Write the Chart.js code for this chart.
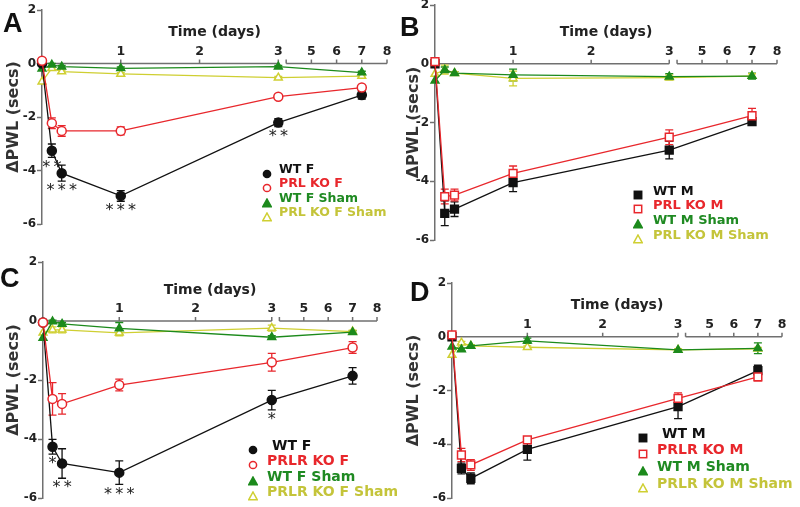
<!DOCTYPE html>
<html lang="en">
<head>
<meta charset="UTF-8">
<title>Change in paw withdrawal latency</title>
<script src="https://cdn.jsdelivr.net/npm/chart.js"></script>
<style>
    html, body { margin: 0; padding: 0; background: #fff; }
    #figure { position: relative; width: 800px; height: 507px; overflow: hidden; font-family: "DejaVu Sans", Verdana, sans-serif; }
    #figure canvas { position: absolute; }
    .tag { position: absolute; font: bold 27px "Liberation Sans", Arial, sans-serif; line-height: 1; color: #111; }
    .leg-text { position: absolute; font-weight: bold; line-height: 1; white-space: nowrap; transform: translateY(-50%); }
    .leg-mark { position: absolute; width: 10px; height: 10px; }
</style>
</head>
<body>
<div id="figure"></div>

<script>
    // time points (days) and axis ticks
    const times = [0, 0.125, 0.25, 1, 3, 7];
    const xTickDays = [1, 2, 3, 5, 6, 7, 8];
    const yTickValues = [-6, -4, -2, 0, 2];

    // Panel A
    const aLabels = ['WT F', 'PRL KO F', 'WT F Sham', 'PRL KO F Sham'];
    const aWt = [0.00, -3.26, -4.10, -4.95, -2.21, -1.18];
    const aWtErr = [0, 0.25, 0.30, 0.20, 0.15, 0.15];
    const aKo = [0.10, -2.23, -2.52, -2.52, -1.24, -0.90];
    const aKoErr = [0, 0.20, 0.20, 0.15, 0.06, 0.06];
    const aWtSham = [-0.20, -0.05, -0.12, -0.18, -0.12, -0.34];
    const aWtShamErr = [0, 0.05, 0.05, 0.05, 0.05, 0.05];
    const aKoSham = [-0.68, -0.18, -0.30, -0.39, -0.53, -0.47];
    const aKoShamErr = [0, 0.05, 0.05, 0.05, 0.05, 0.05];
    const aStars = ['', '**', '***', '***', '**', ''];

    // Panel B
    const bLabels = ['WT M', 'PRL KO M', 'WT M Sham', 'PRL KO M Sham'];
    const bWt = [0.00, -5.09, -4.95, -4.05, -2.94, -1.97];
    const bWtErr = [0, 0.42, 0.25, 0.30, 0.30, 0.06];
    const bKo = [0.07, -4.52, -4.47, -3.73, -2.50, -1.77];
    const bKoErr = [0, 0.25, 0.20, 0.25, 0.25, 0.25];
    const bWtSham = [-0.58, -0.21, -0.32, -0.38, -0.44, -0.42];
    const bWtShamErr = [0, 0.10, 0.05, 0.20, 0.10, 0.10];
    const bKoSham = [-0.35, -0.20, -0.32, -0.50, -0.47, -0.42];
    const bKoShamErr = [0, 0.15, 0.05, 0.25, 0.08, 0.08];
    const bStars = ['', '', '', '', '', ''];

    // Panel C
    const cLabels = ['WT F', 'PRLR KO F', 'WT F Sham', 'PRLR KO F Sham'];
    const cWt = [-0.05, -4.26, -4.83, -5.14, -2.68, -1.86];
    const cWtErr = [0, 0.25, 0.50, 0.40, 0.33, 0.28];
    const cKo = [-0.05, -2.64, -2.81, -2.17, -1.40, -0.90];
    const cKoErr = [0, 0.55, 0.35, 0.20, 0.30, 0.20];
    const cWtSham = [-0.58, -0.02, -0.10, -0.25, -0.55, -0.38];
    const cWtShamErr = [0, 0.05, 0.05, 0.20, 0.05, 0.05];
    const cKoSham = [-0.40, -0.30, -0.30, -0.40, -0.24, -0.36];
    const cKoShamErr = [0, 0.10, 0.10, 0.10, 0.10, 0.05];
    const cStars = ['', '*', '**', '***', '*', ''];

    // Panel D
    const dLabels = ['WT M', 'PRLR KO M', 'WT M Sham', 'PRLR KO M Sham'];
    const dWt = [0.00, -4.90, -5.27, -4.19, -2.60, -1.26];
    const dWtErr = [0, 0.20, 0.20, 0.40, 0.45, 0.20];
    const dKo = [0.07, -4.40, -4.77, -3.84, -2.29, -1.49];
    const dKoErr = [0, 0.25, 0.20, 0.10, 0.20, 0.15];
    const dWtSham = [-0.37, -0.47, -0.34, -0.15, -0.49, -0.43];
    const dWtShamErr = [0, 0.05, 0.05, 0.10, 0.05, 0.20];
    const dKoSham = [-0.68, -0.22, -0.34, -0.39, -0.49, -0.45];
    const dKoShamErr = [0, 0.05, 0.05, 0.05, 0.05, 0.05];
    const dStars = ['', '', '', '', '', ''];

    const family = '"DejaVu Sans", Verdana, sans-serif';
    const axisColor = '#707070';
    const lineColors = ['#111111', '#e8272c', '#1c8a1c', '#cfcf32'];
    const textColors = ['#111111', '#e8272c', '#1f8a22', '#c4c43a'];
    const hollow = [false, true, false, true];
    const drawOrder = [1, 0, 2, 3];   // KO series sits on top of WT at day 0

    // days 0-3 on a linear scale, then 4-8 squeezed after the break
    const dayPos = d => d <= 3 ? d : 3.1 + (d - 4) * 0.32;

    // page-pixel layout for each panel: canvas box, plot area, legend spot
    const panels = [
        { tag: 'A', tagAt: [3, 10], box: [0, -10, 400, 250], area: [42, 10, 387, 224], shape: 'circle',
          labels: aLabels, series: [aWt, aKo, aWtSham, aKoSham], errors: [aWtErr, aKoErr, aWtShamErr, aKoShamErr], stars: aStars,
          legend: { mx: 267, tx: 279, rows: [169, 183, 198, 212], size: 12.5 } },
        { tag: 'B', tagAt: [400, 14], box: [400, -10, 400, 260], area: [435, 5, 777, 240], shape: 'rect',
          labels: bLabels, series: [bWt, bKo, bWtSham, bKoSham], errors: [bWtErr, bKoErr, bWtShamErr, bKoShamErr], stars: bStars,
          legend: { mx: 638, tx: 653, rows: [190, 204, 219, 234], size: 13 } },
        { tag: 'C', tagAt: [0, 265], box: [0, 245, 400, 262], area: [43, 262, 377, 498], shape: 'circle',
          labels: cLabels, series: [cWt, cKo, cWtSham, cKoSham], errors: [cWtErr, cKoErr, cWtShamErr, cKoShamErr], stars: cStars,
          legend: { mx: 253, tx: 267, rows: [445, 460, 476, 491], size: 14 } },
        { tag: 'D', tagAt: [410, 279], box: [400, 245, 400, 262], area: [452, 283, 782, 498], shape: 'rect',
          labels: dLabels, series: [dWt, dKo, dWtSham, dKoSham], errors: [dWtErr, dKoErr, dWtShamErr, dKoShamErr], stars: dStars,
          legend: { mx: 643, tx: 657, rows: [433, 449, 466, 483], size: 14 } }
    ];

    // x axis sits on y = 0, with a break after day 3
    const brokenAxis = {
        id: 'brokenAxis',
        beforeDatasetsDraw(chart) {
            const { ctx, chartArea, scales: { x, y } } = chart;
            const y0 = y.getPixelForValue(0);
            ctx.save();
            ctx.strokeStyle = axisColor;
            ctx.lineWidth = 1.5;
            ctx.beginPath();
            ctx.moveTo(x.getPixelForValue(0), y0);
            ctx.lineTo(x.getPixelForValue(3), y0);
            ctx.moveTo(x.getPixelForValue(dayPos(4)), y0);
            ctx.lineTo(x.getPixelForValue(dayPos(8)), y0);
            [4, ...xTickDays].forEach(d => {
                const px = x.getPixelForValue(dayPos(d));
                ctx.moveTo(px, y0);
                ctx.lineTo(px, y0 - 4);
            });
            ctx.stroke();
            ctx.fillStyle = '#222';
            ctx.textAlign = 'center';
            ctx.textBaseline = 'middle';
            ctx.font = 'bold 12.5px ' + family;
            xTickDays.forEach(d => ctx.fillText(String(d), x.getPixelForValue(dayPos(d)), y0 - 12));
            ctx.font = 'bold 14px ' + family;
            ctx.fillText('Time (days)', (chartArea.left + chartArea.right) / 2, y0 - 31);
            ctx.restore();
        }
    };

    const errorBars = {
        id: 'errorBars',
        beforeDatasetsDraw(chart) {
            const { ctx, scales: { y } } = chart;
            chart.data.datasets.forEach((ds, i) => {
                const meta = chart.getDatasetMeta(i);
                ctx.save();
                ctx.strokeStyle = ds.borderColor;
                ctx.lineWidth = 1.3;
                meta.data.forEach((pt, j) => {
                    const e = ds.errors[j];
                    if (!e) return;
                    const v = ds.data[j].y;
                    const top = y.getPixelForValue(v + e);
                    const bot = y.getPixelForValue(v - e);
                    ctx.beginPath();
                    ctx.moveTo(pt.x, top); ctx.lineTo(pt.x, bot);
                    ctx.moveTo(pt.x - 4, top); ctx.lineTo(pt.x + 4, top);
                    ctx.moveTo(pt.x - 4, bot); ctx.lineTo(pt.x + 4, bot);
                    ctx.stroke();
                });
                ctx.restore();
            });
        }
    };

    // significance asterisks under the WT points
    const starMarks = {
        id: 'starMarks',
        afterDatasetsDraw(chart) {
            const { ctx, scales: { y } } = chart;
            const ds = chart.data.datasets[0];
            const meta = chart.getDatasetMeta(0);
            ctx.save();
            ctx.fillStyle = '#222';
            ctx.font = '16px ' + family;
            ctx.textAlign = 'center';
            ctx.textBaseline = 'middle';
            meta.data.forEach((pt, j) => {
                const s = ds.stars[j];
                if (!s) return;
                const bot = y.getPixelForValue(ds.data[j].y - ds.errors[j]);
                ctx.fillText(s.split('').join('\u2009'), pt.x, bot + 10);
            });
            ctx.restore();
        }
    };

    const fig = document.getElementById('figure');

    function markerSvg(shape, color, open) {
        const fill = open ? '#fff' : color;
        let body;
        if (shape === 'circle') body = `<circle cx="5" cy="5" r="3.6"/>`;
        else if (shape === 'rect') body = `<rect x="1.3" y="1.3" width="7.4" height="7.4"/>`;
        else body = `<polygon points="5,1 9.3,8.8 0.7,8.8"/>`;
        return `<svg viewBox="0 0 10 10" width="10" height="10"><g fill="${fill}" stroke="${color}" stroke-width="1.5">${body}</g></svg>`;
    }

    function makePanel(p) {
        const [bx, by, bw, bh] = p.box;
        const [l, t, r, b] = p.area;
        const cv = document.createElement('canvas');
        cv.width = bw; cv.height = bh;
        cv.style.left = bx + 'px'; cv.style.top = by + 'px';
        fig.appendChild(cv);

        const shapes = [p.shape, p.shape, 'triangle', 'triangle'];

        new Chart(cv, {
            type: 'line',
            data: {
                datasets: p.series.map((s, i) => ({
                    label: p.labels[i],
                    data: times.map((d, j) => ({ x: dayPos(d), y: s[j] })),
                    errors: p.errors[i],
                    stars: i === 0 ? p.stars : null,
                    order: drawOrder[i],
                    borderColor: lineColors[i],
                    backgroundColor: lineColors[i],
                    borderWidth: 1.3,
                    tension: 0,
                    pointStyle: shapes[i],
                    pointRadius: shapes[i] === 'rect' ? 5.5 : 4.5,
                    pointBackgroundColor: hollow[i] ? '#fff' : lineColors[i],
                    pointBorderColor: lineColors[i],
                    pointBorderWidth: 1.5,
                    clip: false
                }))
            },
            options: {
                responsive: false,
                animation: false,
                events: [],
                layout: { padding: { left: 0, top: t - by, right: bx + bw - r, bottom: by + bh - b } },
                scales: {
                    x: { type: 'linear', min: 0, max: dayPos(8), display: false },
                    y: {
                        min: -6, max: 2,
                        afterBuildTicks: s => { s.ticks = yTickValues.map(v => ({ value: v })); },
                        afterFit: s => { s.width = l - bx; },
                        grid: { display: true, drawOnChartArea: false, drawTicks: true, tickLength: 5, tickColor: axisColor, tickWidth: 1.5 },
                        border: { display: true, color: axisColor, width: 1.5 },
                        ticks: { color: '#222', padding: 1, font: { family: family, size: 12, weight: 'bold' } },
                        title: { display: true, text: '\u0394PWL (secs)', color: '#333', padding: { top: 4, bottom: 0 },
                                 font: { family: family, size: 16, weight: 'bold' } }
                    }
                },
                plugins: { legend: { display: false }, tooltip: { enabled: false } }
            },
            plugins: [brokenAxis, errorBars, starMarks]
        });

        // panel letter
        const tag = document.createElement('div');
        tag.className = 'tag';
        tag.textContent = p.tag;
        tag.style.left = p.tagAt[0] + 'px';
        tag.style.top = p.tagAt[1] + 'px';
        fig.appendChild(tag);

        // legend inside the plot, bottom right
        p.labels.forEach((name, i) => {
            const row = p.legend.rows[i];
            const mark = document.createElement('div');
            mark.className = 'leg-mark';
            mark.style.left = (p.legend.mx - 5) + 'px';
            mark.style.top = (row - 5) + 'px';
            mark.innerHTML = markerSvg(shapes[i], lineColors[i], hollow[i]);
            fig.appendChild(mark);

            const txt = document.createElement('div');
            txt.className = 'leg-text';
            txt.textContent = name;
            txt.style.left = (p.legend.tx + (i === 0 && p.legend.size > 13 ? 5 : 0)) + 'px';
            txt.style.top = row + 'px';
            txt.style.color = textColors[i];
            txt.style.fontSize = p.legend.size + 'px';
            fig.appendChild(txt);
        });
    }

    panels.forEach(makePanel);
</script>
</body>
</html>
